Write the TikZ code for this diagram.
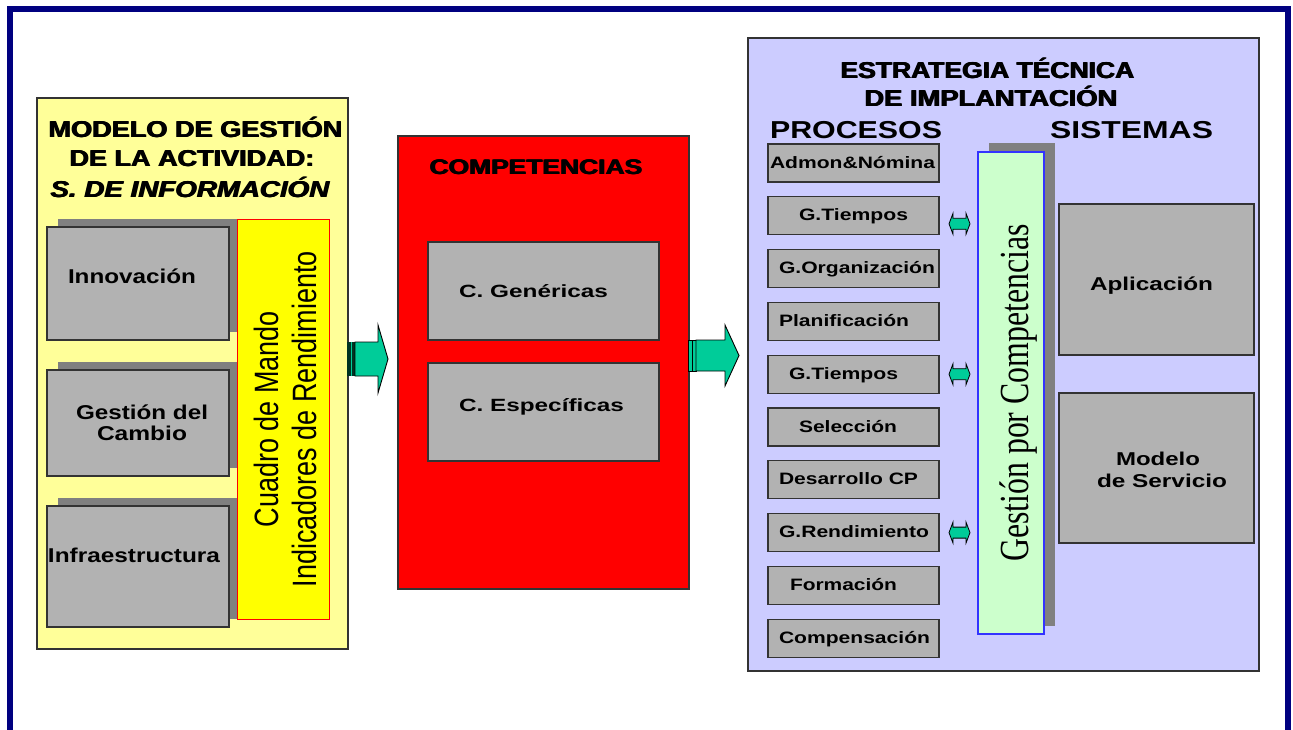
\documentclass[tikz,border=0pt]{standalone}
\usepackage{fontspec}
\setmainfont{Liberation Sans}
\newfontfamily\gpcfont{Liberation Serif}

% set a line of text to a given width, keeping its height
\newcommand\fitw[2]{\resizebox{#1}{\height}{#2}}
% extra-heavy lettering for the panel titles: the text set three times, shifted a little
\newcommand\thick[1]{\leavevmode\rlap{#1}\rlap{\kern0.5pt#1}\kern1pt#1}

\definecolor{framenavy}{HTML}{000080}
\definecolor{paleyellow}{HTML}{FFFF99}
\definecolor{baryellow}{HTML}{FFFF00}
\definecolor{boxgray}{HTML}{B2B2B2}
\definecolor{shadowgray}{HTML}{808080}
\definecolor{edge}{HTML}{333333}
\definecolor{lavender}{HTML}{CCCCFF}
\definecolor{mint}{HTML}{CCFFCC}
\definecolor{gpcblue}{HTML}{3333FF}
\definecolor{arrowteal}{HTML}{00CC99}
\definecolor{stubdark}{HTML}{003322}
\definecolor{redbox}{HTML}{FF0000}

\tikzset{
  panel/.style={draw=edge, line width=1.3pt, inner sep=0pt, outer sep=0pt, anchor=north west},
  graybox/.style={panel, fill=boxgray},
  procbox/.style={graybox, minimum width=171pt, minimum height=38pt},
  lbl/.style={inner sep=0pt, outer sep=0pt, anchor=base west},
  heavy/.style={font=\bfseries\fontsize{#1}{#1}\selectfont},
  boldtxt/.style={font=\bfseries\fontsize{#1}{#1}\selectfont},
  rot/.style={rotate=90, anchor=base, inner sep=0pt, outer sep=0pt},
  bigarrow/.style={fill=arrowteal, draw=black, line width=0.9pt, line join=miter},
  smallarrow/.style={fill=arrowteal, draw=black, line width=0.8pt},
}

% small double-headed arrow, drawn to the right of a process box
\newcommand\dblarrow[2]{%
  \draw[smallarrow] (#1) ++(10,#2) -- ++(4,-10.5) -- ++(0,5) -- ++(13,0) -- ++(0,-5)
    -- ++(4,10.5) -- ++(-4,10.5) -- ++(0,-5) -- ++(-13,0) -- ++(0,5) -- cycle;}

\begin{document}
\begin{tikzpicture}[x=1pt,y=-1pt]
\useasboundingbox (0,0) rectangle (1293,729);
\fill[white] (0,0) rectangle (1293,729);

% outer frame, open at the bottom
\draw[framenavy, line width=6.5pt] (10,735) -- (10,9) -- (1288,9) -- (1288,735);

% ---------- activity model ----------
\node[panel, fill=paleyellow, minimum width=311pt, minimum height=551pt] (modelo) at (37,98) {};
\node[lbl, heavy=23] (t1a) at (48,137) {\fitw{295pt}{\thick{MODELO DE GESTIÓN}}};
\node[lbl, heavy=23] (t1b) at (69,166.5) {\fitw{246pt}{\thick{DE LA ACTIVIDAD:}}};
\node[lbl, heavy=23] (t1c) at (50,197.5) {\fitw{280pt}{\itshape\thick{S. DE INFORMACIÓN}}};

\fill[shadowgray] (58,219) rectangle (238,332);
\fill[shadowgray] (58,362) rectangle (238,468);
\fill[shadowgray] (58,498) rectangle (238,619);
\node[graybox, minimum width=182pt, minimum height=113pt] (innov) at (47,227) {};
\node[graybox, minimum width=182pt, minimum height=106pt] (cambio) at (47,370) {};
\node[graybox, minimum width=182pt, minimum height=121pt] (infra) at (47,506) {};
\node[lbl, boldtxt=20] (innovt) at (68,283.3) {\fitw{128pt}{Innovación}};
\node[lbl, boldtxt=20] (cambiot1) at (76,419) {\fitw{132pt}{Gestión del}};
\node[lbl, boldtxt=20] (cambiot2) at (97,440.7) {\fitw{90pt}{Cambio}};
\node[lbl, boldtxt=20] (infrat) at (48,562.3) {\fitw{172pt}{Infraestructura}};

\node[panel, fill=baryellow, draw=red, line width=0.8pt, minimum width=92pt, minimum height=400pt] (cuadro) at (237,219) {};
\node[rot, font=\fontsize{27}{27}\selectfont] (cm1) at (278,419) {\scalebox{1}[1.25]{Cuadro de Mando}};
\node[rot, font=\fontsize{27}{27}\selectfont] (cm2) at (316,419) {\scalebox{1}[1.25]{Indicadores de Rendimiento}};

% ---------- competences ----------
\node[panel, fill=redbox, minimum width=291pt, minimum height=453pt] (compet) at (398,136) {};
\node[lbl, heavy=21] (compt) at (429,174) {\fitw{214pt}{\thick{COMPETENCIAS}}};
\node[graybox, minimum width=231pt, minimum height=98pt] (gen) at (428,242) {};
\node[graybox, minimum width=231pt, minimum height=98pt] (esp) at (428,363) {};
\node[lbl, boldtxt=17.7] (gent) at (459,297.7) {\fitw{149pt}{C. Genéricas}};
\node[lbl, boldtxt=17.7] (espt) at (459,411.7) {\fitw{165pt}{C. Específicas}};

% ---------- implementation strategy ----------
\node[panel, fill=lavender, minimum width=511pt, minimum height=633pt] (estr) at (748,38) {};
\node[lbl, heavy=23] (est1) at (840,78) {\fitw{295pt}{\thick{ESTRATEGIA TÉCNICA}}};
\node[lbl, heavy=23] (est2) at (864,106) {\fitw{254pt}{\thick{DE IMPLANTACIÓN}}};
\node[lbl, boldtxt=24.5] (procs) at (770,138.5) {\fitw{172pt}{PROCESOS}};
\node[lbl, boldtxt=24.5] (sists) at (1050,138.5) {\fitw{163pt}{SISTEMAS}};

\foreach \i/\txt/\tx/\tw in {0/Admon\&Nómina/770/165, 1/G.Tiempos/799/109,
    2/G.Organización/779/156, 3/Planificación/779/130, 4/G.Tiempos/789/109,
    5/Selección/799/98, 6/Desarrollo CP/779/139, 7/G.Rendimiento/779/150,
    8/Formación/790/107, 9/Compensación/779/151} {
  \node[procbox] (p\i) at (768,144+52.8*\i) {};
  \node[lbl, boldtxt=16.5] (pl\i) at (\tx,168+52.8*\i) {\fitw{\tw pt}{\txt}};
}

\fill[shadowgray] (989,143) rectangle (1055,626);
\node[panel, fill=mint, draw=gpcblue, minimum width=66pt, minimum height=482pt] (gpc) at (978,152) {};
\node[rot, font=\gpcfont\fontsize{31.8}{32}\selectfont] (gpct) at (1028,393) {\scalebox{1}[1.3]{Gestión por Competencias}};

\dblarrow{p1.east}{8}
\dblarrow{p4.east}{0}
\dblarrow{p7.east}{0}

\node[graybox, minimum width=195pt, minimum height=151pt] (apl) at (1059,204) {};
\node[graybox, minimum width=195pt, minimum height=150pt] (msv) at (1059,393) {};
\node[lbl, boldtxt=18.6] (aplt) at (1090,290) {\fitw{123pt}{Aplicación}};
\node[lbl, boldtxt=18.6] (msvt1) at (1116,465) {\fitw{84pt}{Modelo}};
\node[lbl, boldtxt=18.6] (msvt2) at (1097,487) {\fitw{130pt}{de Servicio}};

% ---------- block arrows between the panels ----------
\coordinate (rowA) at (0,359);
\coordinate (rowB) at (0,355.5);
\fill[stubdark] (modelo.east |- rowA) ++(-1,-17) rectangle ++(8,34);
\draw[arrowteal, line width=1.5pt] (modelo.east |- rowA) ++(3.5,-17) -- ++(0,34);
\draw[bigarrow] (modelo.east |- rowA) ++(7,-17) -- ++(23,0) -- ++(0,-17) -- ++(10,34)
  -- ++(-10,34) -- ++(0,-17) -- ++(-23,0) -- cycle;

\draw[bigarrow] (compet.east |- rowB) ++(-1,-15.5) rectangle ++(8,31);
\draw[black, line width=0.9pt] (compet.east |- rowB) ++(3,-15.5) -- ++(0,31);
\draw[bigarrow] (compet.east |- rowB) ++(7,-15.5) -- ++(29,0) -- ++(0,-15) -- ++(14,30.5)
  -- ++(-14,30.5) -- ++(0,-15) -- ++(-29,0) -- cycle;
\end{tikzpicture}
\end{document}
